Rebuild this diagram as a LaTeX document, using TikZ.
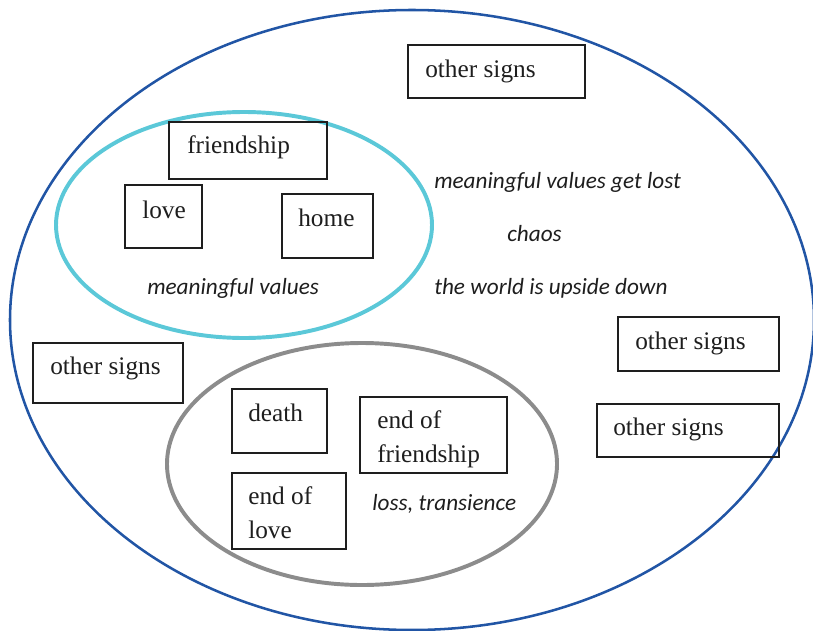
\documentclass[tikz,border=0pt]{standalone}
\usepackage{fontspec}
\setmainfont{Liberation Serif}
\newfontfamily\notefont{Carlito}
\usetikzlibrary{shapes.geometric}

\definecolor{outerblue}{HTML}{2155A5}
\definecolor{valuecyan}{HTML}{5BC8D8}
\definecolor{lossgray}{HTML}{8C8C8C}
\definecolor{inkgray}{HTML}{1E1E1E}

\tikzset{
  signbox/.style={draw=inkgray, line width=1pt},
  sign/.style={anchor=base west, inner sep=0pt, text=inkgray, align=left,
    font=\fontsize{18}{23.5}\selectfont},
  note/.style={anchor=base west, inner sep=0pt, text=inkgray,
    font=\notefont\itshape\fontsize{16.5}{20}\selectfont}
}

\begin{document}
\begin{tikzpicture} [x=0.025cm, y=-0.025cm]
 \useasboundingbox (0,0) rectangle (813,630);
 % the three ellipses
 \draw [outerblue, line width=1.8pt] (412,320) ellipse [x radius=402, y radius=310];
 \draw [valuecyan, line width=2.8pt] (244,225) ellipse [x radius=188, y radius=113];
 \draw [lossgray, line width=2.8pt] (362,464) ellipse [x radius=195, y radius=121];
 % boxes
 \draw [signbox] (408,45) rectangle (585,98);
 \draw [signbox] (169,122) rectangle (327,179);
 \draw [signbox] (125,185) rectangle (202,248);
 \draw [signbox] (282,194) rectangle (373,258);
 \draw [signbox] (33,343) rectangle (183,403);
 \draw [signbox] (618,317) rectangle (779,371);
 \draw [signbox] (597,404) rectangle (779,457);
 \draw [signbox] (232,389) rectangle (327,453);
 \draw [signbox] (360,397) rectangle (507,473);
 \draw [signbox] (232,473) rectangle (346,549);
 % box texts (base = last line)
 \node [sign] (othertop) at (425,78) {other signs};
 \node [sign] (friendship) at (187,154) {friendship};
 \node [sign] (love) at (142,218) {love};
 \node [sign] (home) at (298,226) {home};
 \node [sign] (otherleft) at (50,374) {other signs};
 \node [sign] (otherright) at (635,349) {other signs};
 \node [sign] (otherlow) at (613,435) {other signs};
 \node [sign] (death) at (248,421) {death};
 \node [sign] (endfriend) at (377,462) {end of\\friendship};
 \node [sign] (endlove) at (248,538) {end of\\love};
 % italic notes
 \node [note] (values) at (147,294) {meaningful values};
 \node [note] (lost) at (434,188) {meaningful values get lost};
 \node [note] (chaos) at (507,241) {chaos};
 \node [note] (upside) at (434,294) {the world is upside down};
 \node [note] (loss) at (372,510) {loss, transience};
\end{tikzpicture}
\end{document}
